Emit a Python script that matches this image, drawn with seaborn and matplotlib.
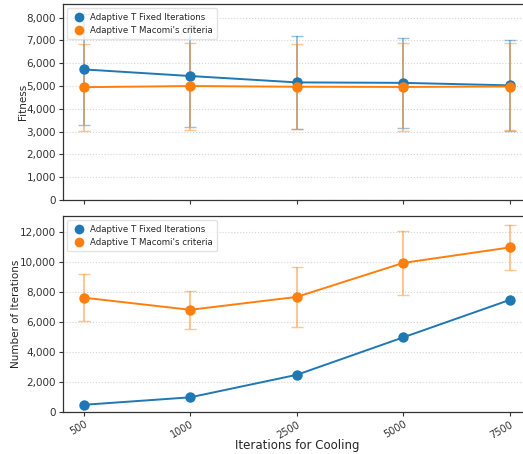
import numpy as np
import pandas as pd
import matplotlib
matplotlib.use("Agg")
import matplotlib.pyplot as plt
import seaborn as sns
from matplotlib.ticker import FuncFormatter
from matplotlib.lines import Line2D

categories = ["500", "1000", "2500", "5000", "7500"]
series_names = ["Adaptive T Fixed Iterations", "Adaptive T Macomi's criteria"]

fitness_fixed = [5730, 5440, 5160, 5140, 5030]
fitness_fixed_std = [2440, 2240, 2030, 1990, 1990]
fitness_macomi = [4950, 5000, 4970, 4960, 4980]
fitness_macomi_std = [1910, 1910, 1860, 1950, 1900]

iters_fixed = [500, 1000, 2500, 5000, 7500]
iters_fixed_std = [0, 0, 0, 0, 0]
iters_macomi = [7650, 6840, 7700, 9970, 11000]
iters_macomi_std = [1580, 1270, 1990, 2140, 1500]

colors = ["#1f77b4", "#ff7f0e"]

sns.set_theme(style="white")
plt.rcParams['font.family'] = ['DejaVu Sans']

fig = plt.figure(figsize=(5.23, 4.54), dpi=100)
ax1 = fig.add_axes([63/523, 1 - 200/454, (531 - 63)/523, 196/454])
ax2 = fig.add_axes([63/523, 1 - 412.3/454, (531 - 63)/523, 196.3/454])

pos = np.arange(len(categories))

def draw(ax, vals, stds, ylabel, ylim, lpad):
    rows = []
    for name, v in zip(series_names, vals):
        for c, p, y in zip(categories, pos, v):
            rows.append({"pos": p, "cat": c, "value": y, "series": name})
    df = pd.DataFrame(rows)
    sns.lineplot(data=df, x="pos", y="value", hue="series", palette=colors,
                 marker="o", markersize=7.5, markeredgewidth=0, linewidth=1.4,
                 ax=ax, legend=False, zorder=3)
    for v, s, col in zip(vals, stds, colors):
        if any(s):
            ax.errorbar(pos, v, yerr=s, fmt="none", ecolor=col, alpha=0.45,
                        capsize=4, elinewidth=1.4, capthick=1, zorder=2)
    ax.set_ylim(*ylim)
    ax.set_xlim(-0.195, 4.2)
    ax.set_xticks(pos)
    ax.yaxis.set_major_formatter(FuncFormatter(lambda x, p: f"{int(x):,}"))
    ax.grid(axis="y", linestyle=":", color="#d5d5d5", linewidth=0.8)
    ax.set_axisbelow(True)
    ax.set_ylabel(ylabel, fontsize=7.5, labelpad=lpad)
    ax.set_xlabel("")
    ax.tick_params(axis="both", which="both", bottom=True, left=True,
                   length=3, width=0.8, labelsize=7.5, colors="#333333", pad=2)
    for sp in ax.spines.values():
        sp.set_color("#333333")
        sp.set_linewidth(0.9)
    handles = [Line2D([], [], linestyle="none", marker="o", markersize=7,
                      markeredgewidth=0, color=c) for c in colors]
    ax.legend(handles, series_names, loc="upper left", fontsize=6.2,
              frameon=True, framealpha=0.8, edgecolor="#dddddd",
              handletextpad=0.5, borderpad=0.5, labelspacing=0.5,
              handlelength=1.6)

draw(ax1, [fitness_fixed, fitness_macomi], [fitness_fixed_std, fitness_macomi_std],
     "Fitness", (0, 8600), -1)
draw(ax2, [iters_fixed, iters_macomi], [iters_fixed_std, iters_macomi_std],
     "Number of Iterations", (0, 13100), -1)

ax1.set_xticklabels([])
ax2.set_xticklabels(categories, rotation=30, ha="right", rotation_mode="anchor",
                    fontsize=7)
ax2.set_xlabel("Iterations for Cooling", fontsize=8.5, labelpad=-1)

fig.savefig("out.png", dpi=100)
